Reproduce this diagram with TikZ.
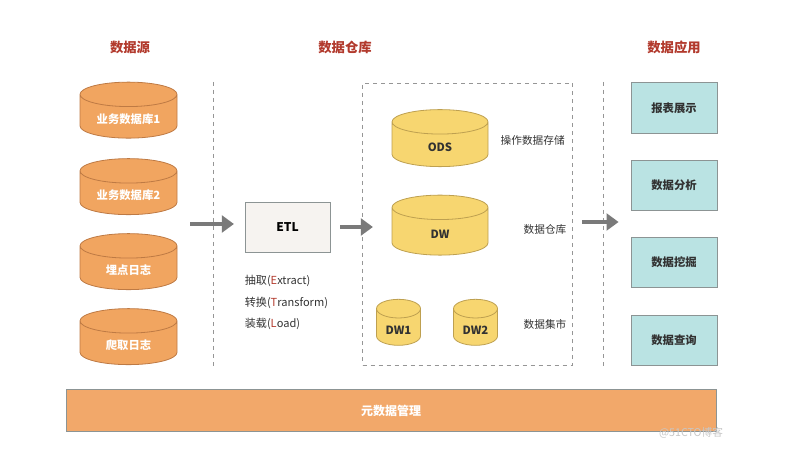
\documentclass[tikz,border=0pt]{standalone}
\usepackage{fontspec}
\setmainfont{Noto Sans CJK SC}
\usetikzlibrary{shapes.geometric,arrows.meta,positioning}

\definecolor{titlered}{RGB}{178,58,45}
\definecolor{srcfill}{RGB}{241,165,96}
\definecolor{srcline}{RGB}{190,122,68}
\definecolor{dwfill}{RGB}{247,214,112}
\definecolor{dwline}{RGB}{190,160,80}
\definecolor{appfill}{RGB}{186,227,227}
\definecolor{boxline}{RGB}{140,148,148}
\definecolor{etlfill}{RGB}{246,243,240}
\definecolor{metafill}{RGB}{242,168,106}
\definecolor{arrowgray}{RGB}{122,122,122}
\definecolor{dashgray}{RGB}{150,150,150}
\definecolor{txt}{RGB}{50,50,50}

\newcommand{\dblabel}[1]{\makebox[0pt]{#1}}

\begin{document}
\begin{tikzpicture}[x=0.75pt, y=-0.75pt,
    title/.style={text=titlered, font=\bfseries\fontsize{10}{12}\selectfont},
    db/.style={cylinder, shape border rotate=90, aspect=2.75, draw, line width=0.6pt, font=\bfseries\fontsize{8.5}{10}\selectfont},
    srcdb/.style={db, draw=srcline, fill=srcfill, text=white, minimum width=72.75pt, minimum height=42pt},
    dwdb/.style={db, draw=dwline, fill=dwfill, text=txt},
    appbox/.style={rectangle, draw=boxline, fill=appfill, text=txt, line width=0.6pt, minimum width=64.5pt, minimum height=38pt, font=\bfseries\fontsize{8.5}{10}\selectfont},
    side/.style={text=txt, font=\fontsize{8}{10}\selectfont},
    bigarrow/.style={arrowgray, line width=3pt, -{Triangle[length=9pt, width=12.5pt]}},
    sep/.style={dashgray, dashed, line width=0.6pt}]
        \useasboundingbox (0,0) rectangle (805,459);
        % Titles
        \node[title] (tsrc) at (130,47) {数据源};
        \node[title] (tdw) at (345,47) {数据仓库};
        \node[title] (tapp) at (674,47) {数据应用};
        % Data sources
        \node[srcdb] (src1) at (128.5,119) {\dblabel{业务数据库1}};
        \node[srcdb] (src2) at (128.5,195.5) {\dblabel{业务数据库2}};
        \node[srcdb] (src3) at (128.5,270.5) {\dblabel{埋点日志}};
        \node[srcdb] (src4) at (128.5,345.5) {\dblabel{爬取日志}};
        % ETL
        \node[rectangle, draw=boxline, fill=etlfill, line width=0.6pt, minimum width=63.75pt, minimum height=37.5pt, font=\bfseries\fontsize{9}{11}\selectfont] (etl) at (287.5,227) {ETL};
        \node[anchor=north west, inner sep=0pt, align=left, text=txt, font=\fontsize{8.3}{16.2}\selectfont] (etlsteps) at ([yshift=-17pt]etl.south west)
            {抽取(\textcolor{titlered}{E}xtract)\\转换(\textcolor{titlered}{T}ransform)\\装载(\textcolor{titlered}{L}oad)};
        % Warehouse
        \node[draw=dashgray, dashed, line width=0.6pt, minimum width=157.5pt, minimum height=211.5pt] (whbox) at (467.5,224) {};
        \node[dwdb, minimum width=72pt, minimum height=42.75pt] (ods) at (440,147) {\dblabel{ODS}};
        \node[dwdb, minimum width=72pt, minimum height=45pt] (dw) at (440,234) {\dblabel{DW}};
        \node[dwdb, aspect=2.1, minimum width=33pt, minimum height=34.5pt] (dw1) at (398.5,330) {\dblabel{DW1}};
        \node[dwdb, aspect=2.1, minimum width=33pt, minimum height=34.5pt] (dw2) at (475.5,330) {\dblabel{DW2}};
        \node[side, anchor=west] (lods) at (496,140) {操作数据存储};
        \node[side, anchor=west] (ldw) at (519,229) {数据仓库};
        \node[side, anchor=west] (ldm) at (519,324) {数据集市};
        % Applications
        \node[appbox] (app1) at (674,108) {报表展示};
        \node[appbox] (app2) at (674,185.5) {数据分析};
        \node[appbox] (app3) at (674,262.5) {数据挖掘};
        \node[appbox] (app4) at (674,340.5) {数据查询};
        % Metadata
        \node[rectangle, draw=boxline, fill=metafill, line width=0.6pt, minimum width=487.5pt, minimum height=31.5pt, text=white, font=\bfseries\fontsize{9}{11}\selectfont] (meta) at (391,410.5) {元数据管理};
        \node[text=black!22, font=\fontsize{8}{10}\selectfont] (mark) at (691,433) {@51CTO博客};
        % Separators
        \coordinate (sepa) at (213,82);
        \coordinate (sepb) at (213,366);
        \coordinate (sepc) at (603,82);
        \coordinate (sepd) at (603,367);
        \draw[sep] (sepa) -- (sepb);
        \draw[sep] (sepc) -- (sepd);
        % Arrows
        \coordinate (a1) at (190,224);
        \coordinate (a2) at (340,227);
        \coordinate (a3) at (582,222);
        \draw[bigarrow] (a1) -- ([xshift=-8]etl.west |- a1);
        \draw[bigarrow] (a2) -- ([xshift=-14]dw.west |- a2);
        \draw[bigarrow] (a3) -- ([xshift=-9]app2.west |- a3);
\end{tikzpicture}
\end{document}
